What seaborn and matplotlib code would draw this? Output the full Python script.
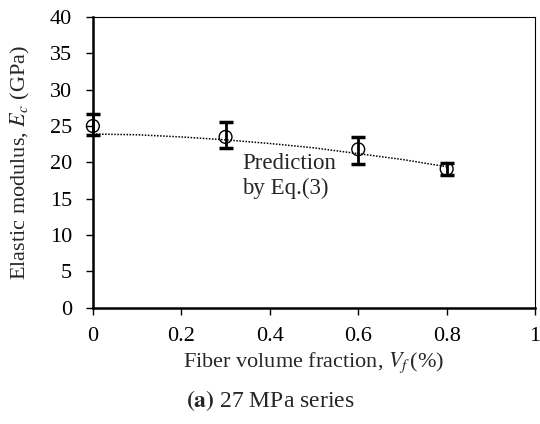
import numpy as np
import pandas as pd
import matplotlib
matplotlib.use("Agg")
import matplotlib.pyplot as plt
import seaborn as sns

vf = [0.0, 0.3, 0.6, 0.8]
ec_mean = [25.0, 23.5, 21.8, 19.1]
ec_low = [23.7, 22.0, 19.8, 18.2]
ec_high = [26.6, 25.6, 23.5, 19.9]

# prediction curve Eq.(3)
pred_vf = [0.0, 0.1, 0.2, 0.3, 0.4, 0.5, 0.6, 0.7, 0.8]
pred_ec = [23.9, 23.8, 23.5, 23.1, 22.6, 22.0, 21.2, 20.4, 19.4]

sns.set_style("white")
plt.rcParams["font.family"] = ["Liberation Serif", "DejaVu Serif"]
plt.rcParams["mathtext.fontset"] = "stix"

df = pd.DataFrame({"vf": vf, "ec": ec_mean})
df_pred = pd.DataFrame({"vf": pred_vf, "ec": pred_ec})

fig = plt.figure(figsize=(5.4, 4.24), dpi=100)
ax = fig.add_axes([0.172, 0.274, 0.819, 0.686])

sns.lineplot(data=df_pred, x="vf", y="ec", ax=ax, color="black",
             linestyle=(0, (1, 1)), linewidth=1.1)

yerr = [np.array(ec_mean) - np.array(ec_low), np.array(ec_high) - np.array(ec_mean)]
eb = ax.errorbar(vf, ec_mean, yerr=yerr, fmt="none", ecolor="black",
                 elinewidth=2.0, capsize=5, capthick=2.5, zorder=3)
for art in eb.lines[1] + eb.lines[2]:
    art.set_clip_on(False)
sns.scatterplot(data=df, x="vf", y="ec", ax=ax, marker="o", s=85,
                facecolor="none", edgecolor="black", linewidth=1.0, zorder=4)
for c in ax.collections:
    c.set_clip_on(False)

ax.text(0.337, 18.1, "Prediction\nby Eq.(3)", fontsize=16.5,
        va="center", ha="left", linespacing=1.2)

ax.set_xlim(0, 1)
ax.set_ylim(0, 40)
ax.set_xticks([0, 0.2, 0.4, 0.6, 0.8, 1])
ax.set_xticklabels(["0", "0.2", "0.4", "0.6", "0.8", "1"])
ax.set_yticks(range(0, 41, 5))
ax.tick_params(axis="both", direction="out", length=5, width=1, labelsize=16,
               bottom=True, left=True, colors="black")
ax.tick_params(axis="x", pad=9)
ax.tick_params(axis="y", pad=10)

for side in ["left", "bottom"]:
    ax.spines[side].set_linewidth(1.8)
for side in ["top", "right"]:
    ax.spines[side].set_linewidth(0.8)
for s in ax.spines.values():
    s.set_color("black")

ax.set_xlabel("Fiber volume fraction, $V_f\\,$(%)", fontsize=16, labelpad=3)
ax.set_ylabel("Elastic modulus, $E_c$ (GPa)", fontsize=16, labelpad=13)

fig.text(0.5, 0.055, "$\\mathbf{(a)}$ 27 MPa series", ha="center", va="center", fontsize=17)

fig.savefig("out.png", dpi=100)
